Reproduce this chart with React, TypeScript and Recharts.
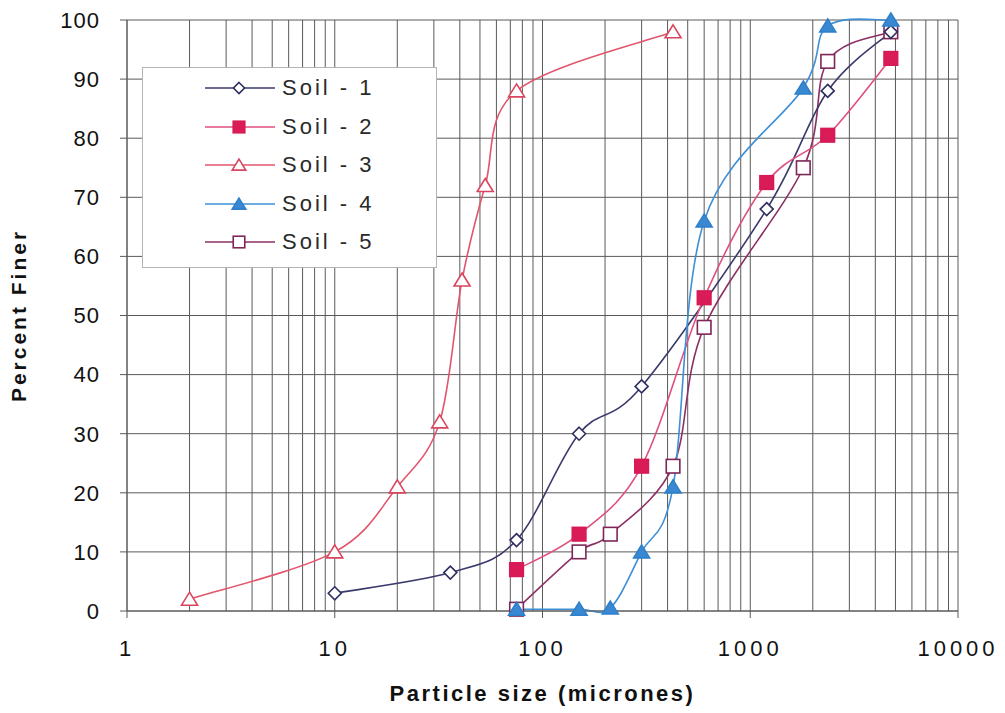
import React from 'react';
import { ComposedChart, Line, XAxis, YAxis, CartesianGrid, Legend } from 'recharts';

// Sieve / hydrometer sizes (microns) and percent finer for each soil
const soil1Sizes = [10, 36, 75, 150, 300, 1200, 2360, 4750];
const soil1Finer = [3, 6.5, 12, 30, 38, 68, 88, 98];

const soil2Sizes = [75, 150, 300, 600, 1200, 2360, 4750];
const soil2Finer = [7, 13, 24.5, 53, 72.5, 80.5, 93.5];

const soil3Sizes = [2, 10, 20, 32, 41, 53, 75, 425];
const soil3Finer = [2, 10, 21, 32, 56, 72, 88, 98];

const soil4Sizes = [75, 150, 212, 300, 425, 600, 1800, 2360, 4750];
const soil4Finer = [0.3, 0.3, 0.5, 10, 21, 66, 88.5, 99, 100];

const soil5Sizes = [75, 150, 212, 425, 600, 1800, 2360, 4750];
const soil5Finer = [0.3, 10, 13, 24.5, 48, 75, 93, 98];

const sizeLabels = [1, 10, 100, 1000, 10000];
const percentTicks = [0, 10, 20, 30, 40, 50, 60, 70, 80, 90, 100];
const decadeSteps = [1, 2, 3, 4, 5, 6, 7, 8, 9];

// log-paper grid: every 1..9 step inside each decade
const gridSizes = sizeLabels.flatMap((d, i) =>
  i === sizeLabels.length - 1 ? [d] : decadeSteps.map((m) => m * d)
);

const FONT = '"Liberation Sans", Arial, Helvetica, sans-serif';
const GRID = '#5a5a5a';
const TICK_SIZE = 7;
const TICK_MARGIN = 22;

// spreadsheet-style smoothed line (Catmull-Rom through every point)
const smoothCurve = (context: any) => {
  let pts: number[][] = [];
  return {
    areaStart() {},
    areaEnd() {},
    lineStart() {
      pts = [];
    },
    point(x: number, y: number) {
      pts.push([+x, +y]);
    },
    lineEnd() {
      if (!pts.length) return;
      context.moveTo(pts[0][0], pts[0][1]);
      for (let i = 0; i < pts.length - 1; i++) {
        const p0 = pts[i - 1] || pts[i];
        const p1 = pts[i];
        const p2 = pts[i + 1];
        const p3 = pts[i + 2] || p2;
        context.bezierCurveTo(
          p1[0] + (p2[0] - p0[0]) / 6,
          p1[1] + (p2[1] - p0[1]) / 6,
          p2[0] - (p3[0] - p1[0]) / 6,
          p2[1] - (p3[1] - p1[1]) / 6,
          p2[0],
          p2[1]
        );
      }
    },
  };
};

type Shape = 'diamond' | 'square' | 'triangle';

interface Soil {
  name: string;
  rows: { size: number; finer: number }[];
  line: string;
  edge: string;
  fill: string;
  shape: Shape;
}

const toRows = (sizes: number[], finer: number[]) =>
  sizes.map((size, i) => ({ size, finer: finer[i] }));

const soils: Soil[] = [
  { name: 'Soil - 1', rows: toRows(soil1Sizes, soil1Finer), line: '#3a3a6c', edge: '#2e2e60', fill: '#ffffff', shape: 'diamond' },
  { name: 'Soil - 2', rows: toRows(soil2Sizes, soil2Finer), line: '#e0507e', edge: '#d61a55', fill: '#d91c58', shape: 'square' },
  { name: 'Soil - 3', rows: toRows(soil3Sizes, soil3Finer), line: '#e2566c', edge: '#d9455f', fill: '#ffffff', shape: 'triangle' },
  { name: 'Soil - 4', rows: toRows(soil4Sizes, soil4Finer), line: '#3e8fd6', edge: '#2f80cc', fill: '#3a88d2', shape: 'triangle' },
  { name: 'Soil - 5', rows: toRows(soil5Sizes, soil5Finer), line: '#8c3064', edge: '#7e2658', fill: '#ffffff', shape: 'square' },
];

// drawing order of the series (later ones sit on top)
const drawOrder = [4, 0, 1, 2, 3];

const Marker = ({ cx, cy, soil, scale = 1 }: { cx: number; cy: number; soil: Soil; scale?: number }) => {
  const common = { fill: soil.fill, stroke: soil.edge, strokeWidth: 1.6 };
  if (soil.shape === 'diamond') {
    const r = 6.5 * scale;
    return <polygon points={`${cx},${cy - r} ${cx + r},${cy} ${cx},${cy + r} ${cx - r},${cy}`} {...common} />;
  }
  if (soil.shape === 'square') {
    const h = 6.8 * scale;
    return <rect x={cx - h} y={cy - h} width={h * 2} height={h * 2} {...common} />;
  }
  const w = 8 * scale;
  return <polygon points={`${cx},${cy - 7 * scale} ${cx + w},${cy + 6 * scale} ${cx - w},${cy + 6 * scale}`} {...common} />;
};

const SizeTick = (props: any) => {
  const { x, y, payload } = props;
  if (!sizeLabels.includes(payload.value)) return <g />;
  const axisY = y - TICK_SIZE - TICK_MARGIN;
  return (
    <g>
      <line x1={x} x2={x} y1={axisY} y2={axisY + TICK_SIZE} stroke={GRID} strokeWidth={1} />
      <text x={x} y={y} dy="0.71em" textAnchor="middle" fontFamily={FONT} fontSize={22} letterSpacing={4} fill="#111">
        {payload.value}
      </text>
    </g>
  );
};

const SoilLegend = () => (
  <div
    style={{
      boxSizing: 'border-box',
      width: 295,
      height: 201,
      border: '1px solid #b4b4b4',
      background: '#ffffff',
      paddingTop: 1,
      paddingLeft: 62,
      fontFamily: FONT,
    }}
  >
    {soils.map((s) => (
      <div key={s.name} style={{ display: 'flex', alignItems: 'center', height: 38.5 }}>
        <svg width={70} height={20} style={{ display: 'block' }}>
          <line x1={0} x2={70} y1={10} y2={10} stroke={s.line} strokeWidth={1.6} />
          <Marker cx={34} cy={10} soil={s} scale={0.85} />
        </svg>
        <span style={{ marginLeft: 7, fontSize: 22, letterSpacing: 3, color: '#2a2a2a', lineHeight: 1 }}>{s.name}</span>
      </div>
    ))}
  </div>
);

const PercentLabel = (props: any) => {
  const { viewBox } = props;
  const cx = 18;
  const cy = viewBox.y + viewBox.height / 2;
  return (
    <text
      x={cx}
      y={cy}
      transform={`rotate(-90, ${cx}, ${cy})`}
      textAnchor="middle"
      dominantBaseline="central"
      fontFamily={FONT}
      fontWeight="bold"
      fontSize={21}
      letterSpacing={3}
      fill="#111"
    >
      Percent Finer
    </text>
  );
};

export default function App() {
  return (
    <div style={{ position: 'absolute', left: 0, top: 0, width: 1005, height: 713, background: '#ffffff' }}>
      <ComposedChart width={1005} height={713} margin={{ top: 20, right: 47, bottom: 0, left: 0 }}>
        <CartesianGrid stroke={GRID} strokeWidth={1} />
        <XAxis
          type="number"
          dataKey="size"
          scale="log"
          domain={[1, 10000]}
          allowDataOverflow
          ticks={gridSizes}
          interval={0}
          height={102}
          tickSize={TICK_SIZE}
          tickMargin={TICK_MARGIN}
          tickLine={false}
          axisLine={{ stroke: GRID }}
          tick={<SizeTick />}
          label={{
            value: 'Particle size (micrones)',
            position: 'insideBottom',
            offset: 12,
            style: { fontFamily: FONT, fontWeight: 'bold', fontSize: 22, letterSpacing: 2.5, fill: '#111' },
          }}
        />
        <YAxis
          type="number"
          dataKey="finer"
          domain={[0, 100]}
          ticks={percentTicks}
          interval={0}
          width={127}
          tickSize={TICK_SIZE}
          tickMargin={20}
          tickLine={{ stroke: GRID }}
          axisLine={{ stroke: GRID }}
          tick={{ fontFamily: FONT, fontSize: 22, fill: '#111', letterSpacing: 1 }}
          label={{ content: <PercentLabel /> }}
        />
        <Legend
          layout="vertical"
          align="center"
          verticalAlign="middle"
          content={<SoilLegend />}
          wrapperStyle={{ left: 142, top: 67, width: 295, height: 201 }}
        />
        {drawOrder.map((idx) => {
          const s = soils[idx];
          return (
            <Line
              key={s.name}
              name={s.name}
              data={s.rows}
              dataKey="finer"
              type={smoothCurve as any}
              stroke={s.line}
              strokeWidth={1.6}
              isAnimationActive={false}
              dot={(p: any) => <Marker key={`${s.name}-${p.index}`} cx={p.cx} cy={p.cy} soil={s} />}
              activeDot={false}
            />
          );
        })}
      </ComposedChart>
    </div>
  );
}
